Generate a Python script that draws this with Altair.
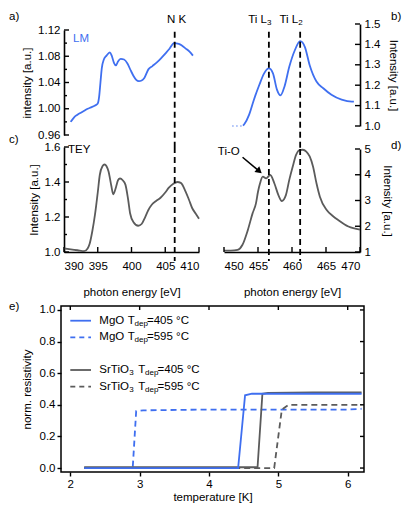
import altair as alt
import pandas as pd

FONT = "Liberation Sans"
BLUE = "#3f6ff0"
GRAY = "#5b5b5b"
BLACK = "#000000"
FS = 11.5
SUB = 8

# ---------------- data ----------------
# a) N K-edge, LM
nk_lm_energy = [391.0, 391.5, 392.0, 392.5, 393.0, 393.5, 394.0, 394.6, 395.0, 395.2,
                395.4, 395.6, 395.9, 396.3, 396.8, 397.1, 397.4, 397.7, 398.0, 398.4,
                398.9, 399.4, 399.9, 400.3, 400.7, 401.1, 401.5, 401.9, 402.5, 403.1,
                403.8, 404.4, 405.0, 405.6, 406.3, 407.0, 407.5, 408.0, 408.6, 409.1]
nk_lm_int = [0.980, 0.987, 0.991, 0.994, 0.997, 1.000, 1.002, 1.005, 1.008, 1.018,
             1.040, 1.062, 1.075, 1.081, 1.086, 1.080, 1.070, 1.066, 1.072, 1.076,
             1.075, 1.069, 1.058, 1.050, 1.044, 1.042, 1.043, 1.047, 1.060, 1.065,
             1.071, 1.077, 1.084, 1.091, 1.100, 1.099, 1.096, 1.092, 1.087, 1.081]
# c) N K-edge, TEY
nk_tey_energy = [390.0, 391.0, 392.0, 393.0, 393.5, 393.8, 394.2, 394.6, 395.0, 395.3,
                 395.7, 396.0, 396.3, 396.6, 397.0, 397.3, 397.7, 398.0, 398.3, 398.7,
                 399.1, 399.5, 399.8, 400.3, 401.0, 401.5, 402.0, 402.5, 403.0, 403.6,
                 404.3, 405.0, 405.5, 406.2, 406.8, 407.3, 408.0, 408.5, 409.0, 409.5, 410.0]
nk_tey_int = [1.020, 1.015, 1.010, 1.005, 1.020, 1.047, 1.120, 1.216, 1.340, 1.440,
              1.490, 1.500, 1.490, 1.460, 1.380, 1.330, 1.370, 1.410, 1.420, 1.410,
              1.385, 1.300, 1.220, 1.170, 1.150, 1.160, 1.197, 1.240, 1.270, 1.290,
              1.310, 1.340, 1.366, 1.390, 1.400, 1.395, 1.347, 1.300, 1.250, 1.220, 1.190]
# b) Ti L-edge, LM
ti_lm_pre_energy = [451.2, 452.8]
ti_lm_pre_int = [1.0, 1.0]
ti_lm_energy = [452.8, 453.0, 453.7, 454.4, 455.2, 455.9, 456.6, 457.2, 457.8, 458.3,
                458.9, 459.6, 460.4, 461.2, 461.9, 462.6, 463.6, 464.6, 465.8, 467.3,
                468.8, 469.1]
ti_lm_int = [1.002, 1.010, 1.056, 1.129, 1.202, 1.258, 1.282, 1.258, 1.177, 1.150,
             1.194, 1.290, 1.370, 1.416, 1.387, 1.298, 1.218, 1.185, 1.153, 1.129,
             1.119, 1.119]
# d) Ti L-edge, TEY
ti_tey_energy = [450.0, 451.0, 452.0, 452.7, 453.5, 454.2, 454.7, 455.0, 455.3, 455.7,
                 456.2, 456.8, 457.4, 458.0, 458.5, 459.1, 459.6, 460.1, 460.6, 461.1,
                 461.6, 462.1, 462.6, 463.1, 463.6, 464.1, 465.1, 466.0, 466.8, 468.3, 470.0]
ti_tey_int = [1.05, 1.05, 1.08, 1.27, 1.85, 2.50, 2.89, 3.34, 3.67, 3.93,
              3.86, 3.99, 3.67, 3.21, 2.98, 3.21, 3.80, 4.31, 4.77, 4.96,
              4.97, 4.90, 4.71, 4.31, 3.67, 3.15, 2.63, 2.40, 2.24, 1.99, 1.87]
edge_nk = [406.4]
edge_ti = [456.6, 461.2]

# e) resistivity
temp_mgo_405 = [2.2, 4.42, 4.52, 4.62, 5.5, 6.2]
res_mgo_405 = [0.0, 0.0, 0.46, 0.47, 0.47, 0.47]
temp_mgo_595 = [2.2, 2.9, 2.95, 3.05, 4.0, 5.0, 6.0, 6.2]
res_mgo_595 = [0.0, 0.0, 0.36, 0.365, 0.37, 0.37, 0.37, 0.375]
temp_sto_405 = [2.2, 4.70, 4.77, 4.85, 5.5, 6.2]
res_sto_405 = [0.005, 0.005, 0.47, 0.475, 0.478, 0.478]
temp_sto_595 = [2.2, 4.94, 5.05, 5.15, 5.5, 6.2]
res_sto_595 = [0.0, 0.0, 0.37, 0.40, 0.40, 0.40]

legend_substrate = ["MgO", "MgO", "SrTiO", "SrTiO"]
legend_substrate_sub = ["", "", "3", "3"]
legend_tdep = ["=405 °C", "=595 °C", "=405 °C", "=595 °C"]

nk_lm_major = [0.96, 1.00, 1.04, 1.08, 1.12]
nk_lm_minor = [0.98, 1.02, 1.06, 1.10]
nk_tey_major = [1.0, 1.2, 1.4, 1.6]
nk_tey_minor = [1.1, 1.3, 1.5]
ti_lm_ticks = [1.0, 1.1, 1.2, 1.3, 1.4, 1.5]
ti_tey_ticks = [1, 2, 3, 4, 5]
nk_energy_ticks = [390, 395, 400, 405, 410]
ti_energy_ticks = [450, 455, 460, 465, 470]
temp_ticks = [2, 3, 4, 5, 6]
res_ticks = [0.0, 0.2, 0.4, 0.6, 0.8, 1.0]


# ---------------- helpers ----------------
def df_xy(x, y):
    return pd.DataFrame({"x": x, "y": y})


AXS = dict(grid=False, labelFont=FONT, titleFont=FONT, labelFontSize=FS, titleFontSize=FS,
           labelColor=BLACK, titleColor=BLACK, titleFontWeight="normal",
           domainColor=BLACK, tickColor=BLACK)


def main_axis(orient, values, fmt, title, offset=0, label_pad=4, title_pad=4,
              domain=True, ticks=False, tick_size=4):
    kw = dict(orient=orient, values=values, format=fmt, title=title, offset=offset,
              labelPadding=label_pad, titlePadding=title_pad, domain=domain,
              domainWidth=1.6, ticks=ticks, **AXS)
    if ticks:
        kw["tickSize"] = tick_size
        kw["tickWidth"] = 1.4
    return alt.Axis(**kw)


def axis_layers(df, xs, ys, xaxes, yaxes):
    out = []
    for i in range(max(len(xaxes), len(yaxes))):
        xa = xaxes[i] if i < len(xaxes) else None
        ya = yaxes[i] if i < len(yaxes) else None
        out.append(alt.Chart(df).mark_point(opacity=0, size=1).encode(
            x=alt.X("x:Q", scale=xs, axis=xa),
            y=alt.Y("y:Q", scale=ys, axis=ya)))
    return out


def yticks(values, ys, x0, x1, width=1.4):
    """inner tick marks on a vertical axis: values through the y scale, from x0 to x1 px"""
    return alt.Chart(pd.DataFrame({"v": values})).mark_rule(
        color=BLACK, strokeWidth=width).encode(
        y=alt.Y("v:Q", scale=ys, axis=None), x=alt.value(x0), x2=alt.value(x1))


def xticks(values, xs, y0, y1, width=1.4):
    """inner tick marks on a horizontal axis: values through the x scale, from y0 to y1 px"""
    return alt.Chart(pd.DataFrame({"v": values})).mark_rule(
        color=BLACK, strokeWidth=width).encode(
        x=alt.X("v:Q", scale=xs, axis=None), y=alt.value(y0), y2=alt.value(y1))


def line_layer(df, xs, ys, color, width=1.8, dash=None, interp="monotone", opacity=1.0):
    kw = dict(color=color, strokeWidth=width, interpolate=interp, opacity=opacity)
    if dash:
        kw["strokeDash"] = dash
    return alt.Chart(df).mark_line(**kw).encode(
        x=alt.X("x:Q", scale=xs, axis=None), y=alt.Y("y:Q", scale=ys, axis=None))


def edge_layer(xvals, ytop, ybot, xs, ys):
    df = pd.DataFrame({"x": xvals, "y1": [ytop] * len(xvals), "y2": [ybot] * len(xvals)})
    return alt.Chart(df).mark_rule(color=BLACK, strokeWidth=1.8, strokeDash=[6, 4]).encode(
        x=alt.X("x:Q", scale=xs, axis=None), y=alt.Y("y1:Q", scale=ys, axis=None), y2="y2:Q")


def label(t, x, y, size=FS, color=BLACK, align="left", baseline="middle"):
    return alt.Chart(pd.DataFrame({"t": [t]})).mark_text(
        font=FONT, fontSize=size, color=color, align=align, baseline=baseline
    ).encode(x=alt.value(x), y=alt.value(y), text="t:N")


def xlabel(t, xv, y, xs, size=FS, color=BLACK, align="center", dx=0):
    return alt.Chart(pd.DataFrame({"x": [xv], "t": [t]})).mark_text(
        font=FONT, fontSize=size, color=color, align=align, baseline="middle", dx=dx
    ).encode(x=alt.X("x:Q", scale=xs, axis=None), y=alt.value(y), text="t:N")


def dlabel(t, xv, yv, xs, ys, size=FS, color=BLACK, align="center"):
    return alt.Chart(pd.DataFrame({"x": [xv], "y": [yv], "t": [t]})).mark_text(
        font=FONT, fontSize=size, color=color, align=align, baseline="middle"
    ).encode(x=alt.X("x:Q", scale=xs, axis=None), y=alt.Y("y:Q", scale=ys, axis=None),
             text="t:N")


# geometry of the top block (one plot area holding panels a-d)
W_T, H_T = 303, 228
XL = [3, 138]       # left panels (a, c)
XR = [163, 299]     # right panels (b, d)
W_E, H_E = 303, 166
TK = 5              # major tick length
TKm = 3             # minor tick length

xs_nk = alt.Scale(domain=[390, 410], range=XL, nice=False, zero=False)
xs_ti = alt.Scale(domain=[450, 470], range=XR, nice=False, zero=False)
ys_a = alt.Scale(domain=[0.96, 1.12], range=[111, 6], nice=False, zero=False)
ys_c = alt.Scale(domain=[1.0, 1.6], range=[228, 123], nice=False, zero=False)
ys_b = alt.Scale(domain=[1.0, 1.5], range=[102, 0], nice=False, zero=False)
ys_d = alt.Scale(domain=[1, 5], range=[228, 125], nice=False, zero=False)
R_OFF = -(W_T - XR[1])

top_layers = []

# ---- panel a ----
df_a = df_xy(nk_lm_energy, nk_lm_int)
top_layers += [
    line_layer(df_a, xs_nk, ys_a, BLUE),
    edge_layer(edge_nk, 1.1174, 0.9417, xs_nk, ys_a),
    yticks(nk_lm_major, ys_a, XL[0], XL[0] + TK),
    yticks(nk_lm_minor, ys_a, XL[0], XL[0] + TKm),
]
top_layers += axis_layers(df_a, xs_nk, ys_a, [], [
    main_axis("left", nk_lm_major, ".2f", "intensity [a.u.]", offset=-3, label_pad=4, title_pad=5),
])
top_layers += [
    label("LM", 12, 15, color=BLUE),
    label("a)", -52, -7),
    xlabel("N K", edge_nk[0], -4, xs_nk, dx=2),
]

# ---- panel c ----
df_c = df_xy(nk_tey_energy, nk_tey_int)
top_layers += [
    line_layer(df_c, xs_nk, ys_c, GRAY),
    edge_layer(edge_nk, 1.6, 0.9486, xs_nk, ys_c),
    yticks(nk_tey_major, ys_c, XL[0], XL[0] + TK),
    yticks(nk_tey_minor, ys_c, XL[0], XL[0] + TKm),
    xticks(nk_energy_ticks, xs_nk, H_T - TK, H_T),
]
top_layers += axis_layers(df_c, xs_nk, ys_c, [
    main_axis("bottom", nk_energy_ticks, "d", "photon energy [eV]", label_pad=8, title_pad=15),
], [
    main_axis("left", nk_tey_major, ".1f", "Intensity [a.u.]", offset=-3, label_pad=4, title_pad=5),
])
top_layers += [label("TEY", 7, 126), label("c)", -52, 116)]

# ---- panel b ----
df_b = df_xy(ti_lm_energy, ti_lm_int)
top_layers += [
    line_layer(df_xy(ti_lm_pre_energy, ti_lm_pre_int), xs_ti, ys_b, BLUE, width=1.5,
               dash=[1.5, 2.5], interp="linear", opacity=0.6),
    line_layer(df_b, xs_ti, ys_b, BLUE),
    edge_layer(edge_ti, 1.4623, 0.8873, xs_ti, ys_b),
    yticks(ti_lm_ticks, ys_b, XR[1] - TK, XR[1]),
]
top_layers += axis_layers(df_b, xs_ti, ys_b, [], [
    main_axis("right", ti_lm_ticks, ".1f", "Intensity [a.u.]", offset=R_OFF, label_pad=4, title_pad=8),
])
top_layers += [
    xlabel("Ti L", edge_ti[0], -4, xs_ti, align="right", dx=-2),
    xlabel("3", edge_ti[0], -1, xs_ti, size=SUB, align="left", dx=-2),
    xlabel("Ti L", edge_ti[1], -4, xs_ti, align="right", dx=-2),
    xlabel("2", edge_ti[1], -1, xs_ti, size=SUB, align="left", dx=-2),
    label("b)", 330, -7),
]

# ---- panel d ----
df_d = df_xy(ti_tey_energy, ti_tey_int)
arrow_df = pd.DataFrame({"x": [452.73], "y": [4.68], "x2": [455.0], "y2": [4.18]})
head_df = pd.DataFrame({"x": [455.07], "y": [4.165]})
top_layers += [
    line_layer(df_d, xs_ti, ys_d, GRAY),
    edge_layer(edge_ti, 5, 0.65, xs_ti, ys_d),
    yticks(ti_tey_ticks, ys_d, XR[1] - TK, XR[1]),
    xticks(ti_energy_ticks, xs_ti, H_T - TK, H_T),
]
top_layers += axis_layers(df_d, xs_ti, ys_d, [
    main_axis("bottom", ti_energy_ticks, "d", "photon energy [eV]", label_pad=8, title_pad=15),
], [
    main_axis("right", ti_tey_ticks, "d", "Intensity [a.u.]", offset=R_OFF, label_pad=4, title_pad=11),
])
top_layers += [
    alt.Chart(arrow_df).mark_rule(color=BLACK, strokeWidth=1.6).encode(
        x=alt.X("x:Q", scale=xs_ti, axis=None), y=alt.Y("y:Q", scale=ys_d, axis=None),
        x2="x2:Q", y2="y2:Q"),
    alt.Chart(head_df).mark_point(shape="triangle", filled=True, color=BLACK, size=55,
                                  angle=131, opacity=1).encode(
        x=alt.X("x:Q", scale=xs_ti, axis=None), y=alt.Y("y:Q", scale=ys_d, axis=None)),
    dlabel("Ti-O", 450.7, 4.88, xs_ti, ys_d),
    label("d)", 330, 122),
]

top = alt.layer(*top_layers).properties(width=W_T, height=H_T).resolve_scale(
    x="independent", y="independent").resolve_axis(x="independent", y="independent")

# ---------------- panel e ----------------
xs_e = alt.Scale(domain=[1.866, 6.235], nice=False, zero=False)
ys_e = alt.Scale(domain=[-0.025, 1.025], nice=False, zero=False)
df_e = df_xy(temp_mgo_405, res_mgo_405)
e_layers = [
    line_layer(df_xy(temp_mgo_595, res_mgo_595), xs_e, ys_e, BLUE, dash=[6, 4], interp="linear"),
    line_layer(df_xy(temp_sto_595, res_sto_595), xs_e, ys_e, GRAY, dash=[6, 4], interp="linear"),
    line_layer(df_xy(temp_sto_405, res_sto_405), xs_e, ys_e, GRAY, interp="linear"),
    line_layer(df_e, xs_e, ys_e, BLUE, interp="linear"),
    xticks(temp_ticks, xs_e, 0, 4),
    yticks(res_ticks, ys_e, W_E - 4, W_E),
]
e_layers += axis_layers(df_e, xs_e, ys_e, [
    main_axis("bottom", temp_ticks, "d", "temperature [K]", label_pad=2, title_pad=2,
              domain=False, ticks=True, tick_size=4),
], [
    main_axis("left", res_ticks, ".1f", "norm. resistivity", label_pad=2, title_pad=7,
              domain=False, ticks=True, tick_size=4),
])

leg_y = [14.7, 31.3, 64.0, 80.7]
leg_color = [BLUE, BLUE, GRAY, GRAY]
leg_dash = [None, [5, 4], None, [5, 4]]
leg_T_x = [66.7, 66.7, 77.3, 77.3]
for i in range(4):
    kw = dict(color=leg_color[i], strokeWidth=1.8)
    if leg_dash[i]:
        kw["strokeDash"] = leg_dash[i]
    e_layers.append(alt.Chart(pd.DataFrame({"k": [i]})).mark_rule(**kw).encode(
        x=alt.value(9.3), x2=alt.value(30), y=alt.value(leg_y[i])))
    e_layers.append(label(legend_substrate[i], 38.3, leg_y[i]))
    if legend_substrate_sub[i]:
        e_layers.append(label(legend_substrate_sub[i], 68.3, leg_y[i] + 3, size=SUB))
    e_layers.append(label("T", leg_T_x[i], leg_y[i]))
    e_layers.append(label("dep", leg_T_x[i] + 6.8, leg_y[i] + 3, size=SUB))
    e_layers.append(label(legend_tdep[i], leg_T_x[i] + 19.3, leg_y[i]))
e_layers.append(label("e)", -52, 1))

panel_e = alt.layer(*e_layers).properties(
    width=W_E, height=H_E,
    view=alt.ViewBackground(stroke=BLACK, strokeWidth=1.5),
).resolve_axis(x="independent", y="independent")

# ---------------- layout ----------------
chart = alt.vconcat(top, panel_e, spacing=54, bounds="flush").properties(
    padding={"left": 0, "top": 3, "right": 0, "bottom": 0}
).configure(font=FONT, view=alt.ViewConfig(stroke=None))

chart.save("out.html", embed_options={"renderer": "svg", "actions": False})
